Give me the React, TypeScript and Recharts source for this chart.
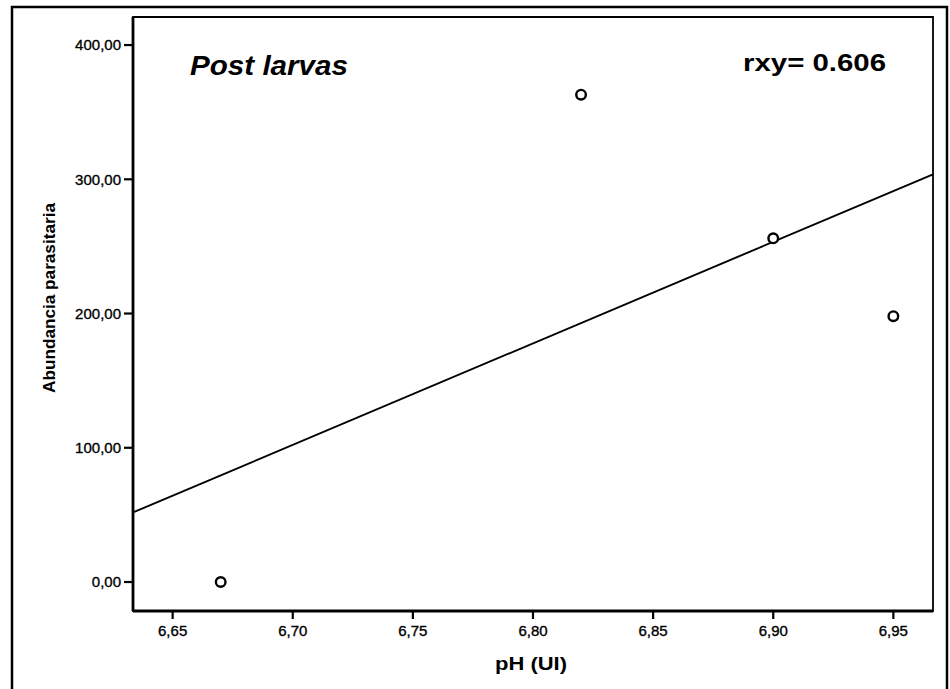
import React from "react";
import {
  ScatterChart,
  Scatter,
  XAxis,
  YAxis,
  ReferenceLine,
  ReferenceArea,
  Customized,
} from "recharts";

// Observations: pH against parasite abundance (post larvas stage)
const phValues = [6.67, 6.82, 6.9, 6.95];
const abundance = [0, 363, 256, 198];

const xTicks = [6.65, 6.7, 6.75, 6.8, 6.85, 6.9, 6.95];
const yTicks = [0, 100, 200, 300, 400];
const xDomain: [number, number] = [6.6335, 6.9665];
const yDomain: [number, number] = [-21.6, 420.9];

const titleText = "Post larvas";
const corrText = "rxy= 0.606";
const xTitle = "pH (UI)";
const yTitle = "Abundancia parasitaria";

const points = phValues.map((x, i) => ({ x, y: abundance[i] }));

// Least-squares fit line across the visible x range
const n = phValues.length;
const meanX = phValues.reduce((a, b) => a + b, 0) / n;
const meanY = abundance.reduce((a, b) => a + b, 0) / n;
let sxy = 0;
let sxx = 0;
phValues.forEach((x, i) => {
  sxy += (x - meanX) * (abundance[i] - meanY);
  sxx += (x - meanX) * (x - meanX);
});
const slope = sxy / sxx;
const intercept = meanY - slope * meanX;
const fitSegment = [
  { x: xDomain[0], y: intercept + slope * xDomain[0] },
  { x: xDomain[1], y: intercept + slope * xDomain[1] },
];

const FONT = "'Liberation Sans', Arial, sans-serif";
const fmt = (v: number) => v.toFixed(2).replace(".", ",");

const OpenDot = (props: any) => {
  const { cx, cy } = props;
  if (cx == null || cy == null) return null;
  return <circle cx={cx} cy={cy} r={4.8} fill="#fff" stroke="#000" strokeWidth={2.4} />;
};

const tickStyle = {
  fill: "#000",
  fontSize: 15,
  fontFamily: FONT,
  stroke: "#000",
  strokeWidth: 0.35,
};

const Decorations = () => (
  <g fontFamily={FONT} fill="#000">
    <rect x={12} y={7} width={935} height={700} fill="none" stroke="#000" strokeWidth={2.5} />
    <text
      x={190}
      y={75}
      fontSize={28}
      fontWeight="bold"
      fontStyle="italic"
      textLength={158}
      lengthAdjust="spacingAndGlyphs"
    >
      {titleText}
    </text>
    <text
      x={743}
      y={71}
      fontSize={24}
      fontWeight="bold"
      textLength={143}
      lengthAdjust="spacingAndGlyphs"
    >
      {corrText}
    </text>
    <text
      x={495}
      y={670}
      fontSize={19}
      fontWeight="bold"
      textLength={72}
      lengthAdjust="spacingAndGlyphs"
    >
      {xTitle}
    </text>
    <text
      x={0}
      y={0}
      transform="translate(55, 298) rotate(-90)"
      textAnchor="middle"
      fontSize={17}
      fontWeight="bold"
      textLength={190}
      lengthAdjust="spacingAndGlyphs"
    >
      {yTitle}
    </text>
  </g>
);

export default function App() {
  return (
    <div style={{ position: "absolute", left: 0, top: 0, width: 950, height: 689, background: "#fff" }}>
      <ScatterChart
        width={950}
        height={689}
        margin={{ top: 17, right: 17, bottom: 48, left: 73 }}
      >
        <ReferenceArea
          x1={xDomain[0]}
          x2={xDomain[1]}
          y1={yDomain[0]}
          y2={yDomain[1]}
          fill="none"
          stroke="#000"
          strokeWidth={1.8}
          ifOverflow="visible"
        />
        <XAxis
          type="number"
          dataKey="x"
          domain={xDomain}
          ticks={xTicks}
          allowDataOverflow
          tickFormatter={fmt}
          height={30}
          tickSize={8}
          tickMargin={6}
          axisLine={{ stroke: "#000", strokeWidth: 2.8 }}
          tickLine={{ stroke: "#000", strokeWidth: 2.2 }}
          tick={tickStyle}
        />
        <YAxis
          type="number"
          dataKey="y"
          domain={yDomain}
          ticks={yTicks}
          allowDataOverflow
          tickFormatter={fmt}
          width={60}
          tickSize={9}
          tickMargin={3}
          axisLine={{ stroke: "#000", strokeWidth: 2.8 }}
          tickLine={{ stroke: "#000", strokeWidth: 2.2 }}
          tick={tickStyle}
        />
        <ReferenceLine
          segment={fitSegment}
          stroke="#000"
          strokeWidth={1.9}
          ifOverflow="visible"
        />
        <Scatter data={points} shape={<OpenDot />} isAnimationActive={false} />
        <Customized component={<Decorations />} />
      </ScatterChart>
    </div>
  );
}
